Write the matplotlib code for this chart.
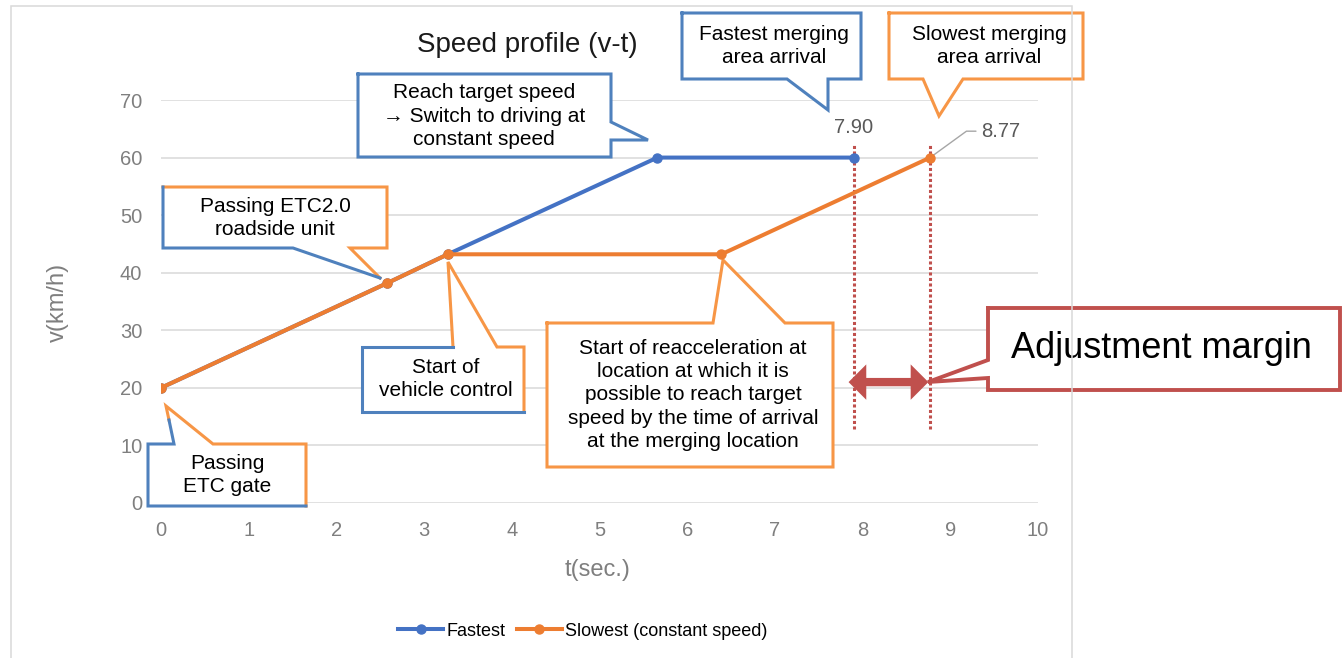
import matplotlib
matplotlib.use("Agg")
import matplotlib.pyplot as plt
from matplotlib.patches import Polygon, Rectangle
from matplotlib.lines import Line2D

plt.rcParams['font.family'] = ['Liberation Sans', 'DejaVu Sans']

# data
t_fast = [0, 2.58, 3.27, 5.66, 7.90]
v_fast = [20, 38.2, 43.2, 60, 60]
t_slow = [0, 2.58, 3.27, 6.39, 8.77]
v_slow = [20, 38.2, 43.2, 43.2, 60]
series_names = ["Fastest", "Slowest (constant speed)"]
x_ticks = list(range(0, 11))
y_ticks = list(range(0, 71, 10))

BLUE = '#4472C4'
ORANGE = '#ED7D31'
BOX_BLUE = '#4F81BD'
BOX_ORANGE = '#F79646'
RED = '#C0504D'
GRAY = '#7F7F7F'

W, H = 1342, 658
fig = plt.figure(figsize=(W / 100, H / 100), dpi=100)
ax = fig.add_axes([161 / W, 1 - 503 / H, (1038 - 161) / W, (503 - 100) / H])


def fxy(px, py):
    # image pixel -> figure fraction
    return (px / W, 1 - py / H)


def callout(pts, parts, text_at, text, size=15, lw=2.2, zorder=4):
    verts = [fxy(*p) for p in pts]
    ax.add_patch(Polygon(verts, closed=True, facecolor='white', edgecolor='none',
                         transform=fig.transFigure, clip_on=False, zorder=zorder))
    n = len(verts)
    for idx, color in parts:
        xs = [verts[i % n][0] for i in idx]
        ys = [verts[i % n][1] for i in idx]
        ax.add_line(Line2D(xs, ys, color=color, lw=lw, transform=fig.transFigure,
                           clip_on=False, zorder=zorder + 0.1,
                           solid_joinstyle='miter', solid_capstyle='projecting'))
    ax.text(*fxy(*text_at), text, transform=fig.transFigure, ha='center', va='center',
            fontsize=size, color='black', linespacing=1.27, zorder=zorder + 0.2)


# chart frame
fig.add_artist(Rectangle(fxy(11, 700), (1072 - 11) / W, (700 - 6) / H, fill=False,
                         edgecolor='#D9D9D9', lw=1.1))

ax.plot(t_fast, v_fast, color=BLUE, lw=2.9, marker='o', ms=6.5, zorder=5, label=series_names[0])
ax.plot(t_slow, v_slow, color=ORANGE, lw=2.9, marker='o', ms=6.5, zorder=5, label=series_names[1])

ax.set_xlim(0, 10)
ax.set_ylim(0, 70)
ax.set_xticks(x_ticks)
ax.set_yticks(y_ticks)
ax.yaxis.grid(True, color='#D9D9D9', lw=1.1)
ax.set_axisbelow(True)
for s in ax.spines.values():
    s.set_visible(False)
ax.tick_params(length=0, labelsize=14.5, labelcolor=GRAY)
ax.tick_params(axis='y', pad=13.5)
ax.tick_params(axis='x', pad=13)

fig.text(*fxy(527, 45), 'Speed profile (v-t)', fontsize=20, ha='center', va='center', color='#1a1a1a')
fig.text(*fxy(58, 302), 'v(km/h)', fontsize=17, ha='center', va='center', rotation=90, color=GRAY)
fig.text(*fxy(598, 570), 't(sec.)', fontsize=17, ha='center', va='center', color=GRAY)

# merging arrival markers
ax.vlines([t_fast[-1], t_slow[-1]], 12.8, 62.5, colors=RED, lw=2.2,
          linestyles=(0, (1, 0.8)), zorder=3)
ax.annotate('', xy=(7.84, 21), xytext=(t_slow[-1] - 0.02, 21),
            arrowprops=dict(arrowstyle='<|-|>,head_length=0.55,head_width=0.55', lw=6,
                            color=RED, shrinkA=0, shrinkB=0, mutation_scale=10,
                            joinstyle='miter', capstyle='butt'), zorder=6)

ax.annotate(f"{t_fast[-1]:.2f}", xy=(t_fast[-1], v_fast[-1]), xytext=(0, 22),
            textcoords='offset points', ha='center', va='center', fontsize=14.5, color='#595959')
ax.annotate(f"{t_slow[-1]:.2f}", xy=(t_slow[-1], v_slow[-1]), xytext=(37, 19),
            textcoords='offset points', ha='left', va='center', fontsize=14.5, color='#595959',
            arrowprops=dict(arrowstyle='-', color='#A6A6A6', lw=1, shrinkA=2, shrinkB=2,
                            connectionstyle='angle,angleA=0,angleB=36,rad=0'))

# callouts
callout([(358, 74), (611, 74), (611, 122), (648, 140), (611, 140), (611, 157), (358, 157)],
        [(range(0, 8), BOX_BLUE)], (484, 116),
        'Reach target speed\n\u2192 Switch to driving at\nconstant speed')
callout([(682, 13), (861, 13), (861, 79), (828, 79), (828, 110), (787, 79), (682, 79)],
        [(range(0, 8), BOX_BLUE)], (774, 46), 'Fastest merging\narea arrival')
callout([(889, 13), (1083, 13), (1083, 79), (963, 79), (939, 116), (923, 79), (889, 79)],
        [(range(0, 8), BOX_ORANGE)], (989, 46), 'Slowest merging\narea arrival')
callout([(163, 187), (387, 187), (387, 248), (350, 248), (380, 278), (293, 248), (163, 248)],
        [([0, 1, 2, 3, 4], BOX_ORANGE), ([4, 5, 6, 7], BOX_BLUE)], (275, 218),
        'Passing ETC2.0\nroadside unit')
callout([(362, 347), (453, 347), (448, 262), (497, 347), (524, 347), (524, 412), (362, 412)],
        [([1, 2, 3, 4, 5], BOX_ORANGE), ([5, 6, 7, 8], BOX_BLUE)], (446, 379),
        'Start of\nvehicle control')
callout([(148, 444), (174, 444), (169, 420), (166, 406), (213, 444), (306, 444), (306, 506), (148, 506)],
        [([2, 3, 4, 5, 6], BOX_ORANGE), ([6, 7, 8, 9, 10], BOX_BLUE)], (227, 475),
        'Passing\nETC gate')
callout([(547, 323), (713, 323), (723, 260), (785, 323), (833, 323), (833, 467), (547, 467)],
        [(range(0, 8), BOX_ORANGE)], (693, 395),
        'Start of reacceleration at\nlocation at which it is\npossible to reach target\n'
        'speed by the time of arrival\nat the merging location')
callout([(988, 308), (1340, 308), (1340, 390), (988, 390), (988, 378), (928, 382), (988, 360)],
        [(range(0, 8), RED)], (1161, 349), 'Adjustment margin', size=26, lw=2.8)

ax.legend(loc='center', bbox_to_anchor=fxy(583, 631), bbox_transform=fig.transFigure,
          ncol=2, frameon=False, fontsize=13, handlelength=2.5, handletextpad=0.2,
          columnspacing=0.6)

fig.savefig('out.png', dpi=100)
